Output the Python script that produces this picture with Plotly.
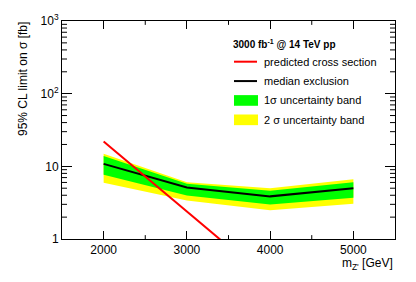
import plotly.graph_objects as go

mass = [2000, 3000, 4000, 5000]
median = [10.8, 5.1, 3.86, 4.98]
sig1_lo = [7.65, 3.98, 2.99, 3.71]
sig1_hi = [13.9, 5.75, 4.6, 6.03]
sig2_lo = [5.93, 3.38, 2.49, 3.05]
sig2_hi = [14.9, 6.04, 4.98, 6.64]
pred_mass = [2000, 3000, 4000]
pred_xs = [22.0, 2.39, 0.26]

ytickvals = [1, 10, 100, 1000]
yticktext = ["1", "10", "10<sup>2</sup>", "10<sup>3</sup>"]
yminor = [m * d for d in (1, 10, 100) for m in range(2, 10)]
xtickvals = [2000, 3000, 4000, 5000]

FONT = "Liberation Sans, Arial, sans-serif"

fig = go.Figure()
fig.add_trace(go.Scatter(x=mass, y=sig2_lo, mode="lines", line=dict(width=0), showlegend=False, hoverinfo="skip"))
fig.add_trace(go.Scatter(x=mass, y=sig2_hi, mode="lines", line=dict(width=0), fill="tonexty",
                         fillcolor="#ffff00", showlegend=False))
fig.add_trace(go.Scatter(x=mass, y=sig1_lo, mode="lines", line=dict(width=0), showlegend=False, hoverinfo="skip"))
fig.add_trace(go.Scatter(x=mass, y=sig1_hi, mode="lines", line=dict(width=0), fill="tonexty",
                         fillcolor="#00ff00", showlegend=False))
fig.add_trace(go.Scatter(x=mass, y=median, mode="lines", line=dict(color="black", width=2), showlegend=False))
fig.add_trace(go.Scatter(x=pred_mass, y=pred_xs, mode="lines", line=dict(color="#ff0000", width=2), showlegend=False))

fig.update_layout(
    width=416, height=282,
    margin=dict(l=62, r=21, t=14, b=43),
    paper_bgcolor="white", plot_bgcolor="white",
    font=dict(family=FONT, size=12, color="black"),
    showlegend=False,
)
fig.update_xaxes(
    range=[1500, 5500], tickvals=xtickvals, ticks="inside", ticklen=8, tickwidth=1, tickcolor="black",
    showgrid=False, zeroline=False, showline=True, linecolor="black", linewidth=1, mirror="ticks",
    tickfont=dict(size=12),
)
fig.update_yaxes(
    type="log", range=[0, 3], tickvals=ytickvals, ticktext=yticktext, ticks="inside", ticklen=10,
    tickwidth=1, tickcolor="black", showgrid=False, zeroline=False, showline=True, linecolor="black",
    linewidth=1, mirror="ticks", tickfont=dict(size=12), ticklabeloverflow="allow",
)

plot_w = 416 - 62 - 21
plot_h = 282 - 14 - 43
# minor y ticks (left and right frame), placed through the y axis scale
for v in yminor:
    fig.add_shape(type="line", xref="paper", yref="y", x0=0, x1=5 / plot_w, y0=v, y1=v,
                  line=dict(color="black", width=1), layer="above")
    fig.add_shape(type="line", xref="paper", yref="y", x0=1 - 5 / plot_w, x1=1, y0=v, y1=v,
                  line=dict(color="black", width=1), layer="above")
# minor x ticks (bottom and top frame)
for v in [2500, 3500, 4500]:
    fig.add_shape(type="line", xref="x", yref="paper", x0=v, x1=v, y0=0, y1=4 / plot_h,
                  line=dict(color="black", width=1), layer="above")
    fig.add_shape(type="line", xref="x", yref="paper", x0=v, x1=v, y0=1 - 4 / plot_h, y1=1,
                  line=dict(color="black", width=1), layer="above")

# axis titles
fig.add_annotation(text="95% CL limit on σ [fb]", textangle=-90, xref="paper", yref="paper",
                   x=0, xshift=-39, y=1, yshift=1, xanchor="center", yanchor="top", showarrow=False,
                   font=dict(size=12))
fig.add_annotation(text="m<sub>Z'</sub> [GeV]", xref="paper", yref="paper", x=1, y=0, yshift=-15,
                   xanchor="right", yanchor="top", showarrow=False, font=dict(size=12))

# legend (manual), positions given in page pixels
def px_x(p):
    return (p - 62) / (395 - 62)

def px_y(p):
    return (239 - p) / (239 - 14)

fig.add_annotation(text="<b>3000 fb<sup>-1</sup> @ 14 TeV pp</b>", xref="paper", yref="paper",
                   x=px_x(231), y=px_y(38), xanchor="left", yanchor="middle", showarrow=False,
                   font=dict(size=10))
entries = [
    ("line", "#ff0000", 56, "predicted cross section"),
    ("line", "black", 76, "median exclusion"),
    ("box", "#00ff00", 96, "1σ uncertainty band"),
    ("box", "#ffff00", 116, "2 σ uncertainty band"),
]
for kind, col, yc, label in entries:
    if kind == "line":
        fig.add_shape(type="line", xref="paper", yref="paper", x0=px_x(234), x1=px_x(257),
                      y0=px_y(yc), y1=px_y(yc), line=dict(color=col, width=2))
    else:
        fig.add_shape(type="rect", xref="paper", yref="paper", x0=px_x(234), x1=px_x(258),
                      y0=px_y(yc + 5.5), y1=px_y(yc - 5.5), line=dict(width=0), fillcolor=col)
    fig.add_annotation(text=label, xref="paper", yref="paper", x=px_x(262), y=px_y(yc),
                       xanchor="left", yanchor="middle", showarrow=False, font=dict(size=11))

fig.write_html("out.html", config={"displayModeBar": False},
               post_script="document.body.style.margin='0';")
